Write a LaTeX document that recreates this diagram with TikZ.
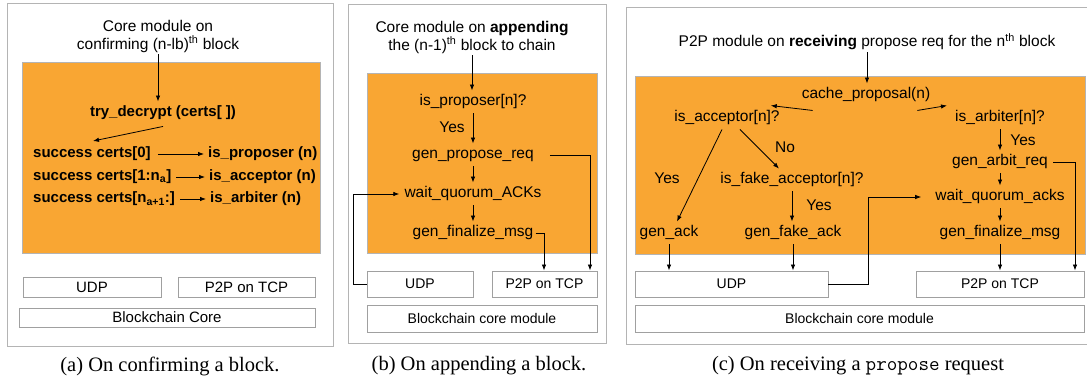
\documentclass[tikz,border=0pt]{standalone}
\usepackage{fontspec}
\setmainfont{Liberation Serif}
\setsansfont{Liberation Sans}
\usetikzlibrary{arrows.meta}
\definecolor{blockorange}{RGB}{249,166,51}
\definecolor{framegray}{RGB}{180,180,180}
\definecolor{boxgray}{RGB}{160,160,160}

\begin{document}
\begin{tikzpicture}[x=1pt,y=-1pt,
  panel/.style={draw=framegray,line width=1pt},
  module/.style={fill=blockorange,draw=framegray,line width=0.8pt},
  layer/.style={draw=boxgray,fill=white,line width=0.9pt,inner sep=0pt,
    font=\sffamily\fontsize{14}{16}\selectfont},
  biglayer/.style={layer,font=\sffamily\fontsize{15}{17}\selectfont},
  txt/.style={font=\sffamily\fontsize{15.5}{18}\selectfont,inner xsep=2pt,
    inner ysep=4pt,text height=11pt,text depth=3.5pt},
  btxt/.style={txt,font=\sffamily\bfseries\fontsize{15}{18}\selectfont},
  heading/.style={font=\sffamily\fontsize{15.5}{18}\selectfont,align=center,inner sep=2pt},
  lab/.style={font=\sffamily\fontsize{15.5}{18}\selectfont,inner sep=0pt},
  caption/.style={font=\rmfamily\fontsize{20.5}{24}\selectfont,inner sep=0pt},
  arr/.style={-{Latex[length=6pt,width=4.5pt]},line width=0.8pt},
  wire/.style={line width=0.8pt}
]
\useasboundingbox (0,0) rectangle (1087,383);

% ---------------- (a) confirming a block ----------------
\draw[panel] (7,3) rectangle (333,346);
\draw[module] (22,62) rectangle (320,253);
\node[heading] (tA) at (158,36) {Core module on\\confirming (n-lb)\textsuperscript{th} block};
\node[btxt] (tdA) at (163,113) {try\_decrypt (certs[ ])};
\coordinate (forkA) at (93,141);
\node[btxt,anchor=west] (sA1) at (31,154) {success certs[0]};
\node[btxt,anchor=west] (sA2) at (31,177) {success certs[1:n\textsubscript{a}]};
\node[btxt,anchor=west] (sA3) at (31,199) {success certs[n\textsubscript{a+1}:]};
\node[btxt,anchor=west] (pA1) at (206,154) {is\_proposer (n)};
\node[btxt,anchor=west] (pA2) at (207,177) {is\_acceptor (n)};
\node[btxt,anchor=west] (pA3) at (208,199) {is\_arbiter (n)};
\draw[arr] (tA.south) -- (tA.south |- tdA.north);
\draw[arr] ([yshift=-2pt]tdA.south) -- (forkA);
\draw[arr,shorten <=5pt,shorten >=2pt] (sA1.east) -- (pA1.west);
\draw[arr,shorten <=3pt,shorten >=2pt] (sA2.east) -- (pA2.west);
\draw[arr,shorten <=3pt,shorten >=2pt] (sA3.east) -- (pA3.west);
\node[biglayer,minimum width=138pt,minimum height=20pt] (udpA) at (92,287) {UDP};
\node[biglayer,minimum width=137pt,minimum height=20pt] (p2pA) at (246.5,287) {P2P on TCP};
\node[biglayer,minimum width=296pt,minimum height=19pt] (bcA) at (167,317.5) {Blockchain Core};
\node[caption] (capA) at (170,366) {(a) On confirming a block.};

% ---------------- (b) appending a block ----------------
\draw[panel] (348,4) rectangle (606,343);
\draw[module] (367,73) rectangle (597,253);
\node[heading] (tB) at (472,37) {Core module on \textbf{appending}\\the (n-1)\textsuperscript{th} block to chain};
\node[txt] (pB) at (473,102) {is\_proposer[n]?};
\node[txt] (gpB) at (473,155) {gen\_propose\_req};
\node[txt] (wqB) at (473,194) {wait\_quorum\_ACKs};
\node[txt] (fmB) at (473,233) {gen\_finalize\_msg};
\node[lab] (yesB) at (452,127) {Yes};
\node[layer,minimum width=106pt,minimum height=26pt] (udpB) at (420,284) {UDP};
\node[layer,minimum width=105pt,minimum height=26pt] (p2pB) at (544.5,284) {P2P on TCP};
\node[layer,minimum width=230pt,minimum height=27pt] (bcB) at (482,318.5) {Blockchain core module};
\coordinate (gpTurnB) at (590,155);
\coordinate (fmTurnB) at (544,233);
\coordinate (udpTurnB) at (353,284);
\draw[arr] (tB.south) -- (tB.south |- pB.north);
\draw[arr] (pB.south) -- (gpB.north);
\draw[arr] (gpB.south) -- (wqB.north);
\draw[arr] (wqB.south) -- (fmB.north);
\draw[arr] ([xshift=14pt]gpB.east) -- (gpTurnB) -- (gpTurnB |- p2pB.north);
\draw[arr] (fmB.east) -- (fmTurnB) -- (fmTurnB |- p2pB.north);
\draw[arr,shorten >=3pt] (udpB.west) -- (udpTurnB) -- (udpTurnB |- wqB.west) -- (wqB.west);
\node[caption] (capB) at (479,366) {(b) On appending a block.};

% ---------------- (c) receiving a propose request ----------------
\draw[panel] (1090,7) -- (626,7) -- (626,344) -- (1090,344);
\draw[module] (635,76) rectangle (1085,254);
\node[heading] (tC) at (867,42) {P2P module on \textbf{receiving} propose req for the n\textsuperscript{th} block};
\node[txt] (cpC) at (866,95) {cache\_proposal(n)};
\node[txt] (iaC) at (727,118) {is\_acceptor[n]?};
\node[txt] (irC) at (1000,118) {is\_arbiter[n]?};
\node[txt] (ifC) at (792,180) {is\_fake\_acceptor[n]?};
\node[txt] (gaC) at (1000,162) {gen\_arbit\_req};
\node[txt] (wqC) at (1000,197) {wait\_quorum\_acks};
\node[txt] (fmC) at (1000,233) {gen\_finalize\_msg};
\node[txt] (gkC) at (669,233) {gen\_ack};
\node[txt] (gfC) at (793,233) {gen\_fake\_ack};
\node[lab] (yesC1) at (1023,140) {Yes};
\node[lab] (noC) at (785,147) {No};
\node[lab] (yesC2) at (667,178) {Yes};
\node[lab] (yesC3) at (819,205) {Yes};
\node[layer,minimum width=193pt,minimum height=26pt] (udpC) at (731.5,284) {UDP};
\node[layer,minimum width=168pt,minimum height=26pt] (p2pC) at (1000,284) {P2P on TCP};
\node[layer,minimum width=449pt,minimum height=27pt] (bcC) at (859.5,318.5) {Blockchain core module};
\coordinate (gaTurnC) at (1075,162);
\coordinate (udpTurnC) at (868,284);
\draw[arr] (tC.south) -- (tC.south |- cpC.north);
\draw[arr] ([xshift=13pt,yshift=-4pt]cpC.south west) -- ([xshift=-11pt,yshift=1pt]iaC.north east);
\draw[arr] ([xshift=-15pt,yshift=-4pt]cpC.south east) -- ([xshift=-6pt,yshift=1pt]irC.north west);
\draw[arr] (irC.south) -- (gaC.north);
\draw[arr] (gaC.south) -- (wqC.north);
\draw[arr] (wqC.south) -- (fmC.north);
\draw[arr] (fmC.south) -- (fmC.south |- p2pC.north);
\draw[arr] ([xshift=3pt]gaC.east) -- (gaTurnC) -- (gaTurnC |- p2pC.north);
\draw[arr] ([xshift=-5pt]iaC.south) -- ([xshift=8pt]gkC.north);
\draw[arr] ([xshift=13pt]iaC.south) -- ([xshift=-13pt]ifC.north);
\draw[arr] (ifC.south) -- (ifC.south |- gfC.north);
\draw[arr] (gkC.south) -- (gkC.south |- udpC.north);
\draw[arr] (gfC.south) -- (gfC.south |- udpC.north);
\draw[arr,shorten >=12pt] (udpC.east) -- (udpTurnC) -- (udpTurnC |- wqC.west) -- (wqC.west);
\node[caption] (capC) at (858,366) {(c) On receiving a \texttt{propose} request};
\end{tikzpicture}
\end{document}
